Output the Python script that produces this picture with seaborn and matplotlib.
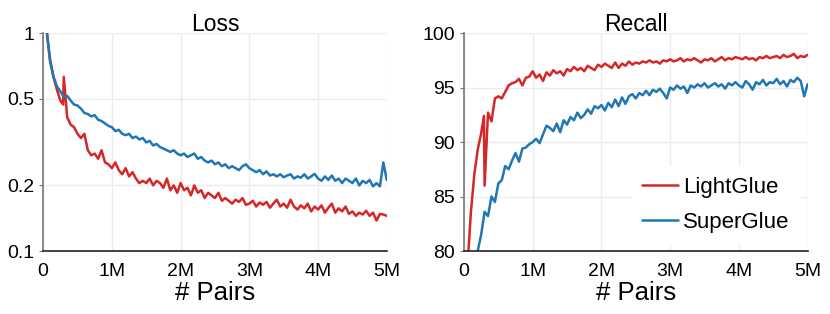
import numpy as np
import pandas as pd
import matplotlib
matplotlib.use("Agg")
import matplotlib.pyplot as plt
import seaborn as sns

# training pairs, in millions
pairs_m = [round(0.05 * i, 2) for i in range(1, 101)]
# LightGlue was resumed around 0.3M pairs -> one extra logged point
lg_pairs_m = pairs_m[:5] + [0.29] + pairs_m[5:]

lg_loss = [1.02, 0.76, 0.63, 0.55, 0.49, 0.47, 0.63, 0.41, 0.38,
           0.37, 0.345, 0.33, 0.345, 0.29, 0.275, 0.28, 0.265, 0.29, 0.255,
           0.25, 0.24, 0.255, 0.235, 0.225, 0.24, 0.22, 0.23, 0.215, 0.205,
           0.21, 0.205, 0.215, 0.2, 0.21, 0.205, 0.195, 0.215, 0.19, 0.2,
           0.185, 0.205, 0.19, 0.195, 0.18, 0.2, 0.185, 0.19, 0.175, 0.185,
           0.18, 0.175, 0.185, 0.17, 0.175, 0.17, 0.165, 0.172, 0.168, 0.175,
           0.163, 0.165, 0.17, 0.16, 0.167, 0.163, 0.168, 0.158, 0.165, 0.172,
           0.16, 0.165, 0.158, 0.172, 0.16, 0.155, 0.162, 0.157, 0.165, 0.152,
           0.16, 0.155, 0.162, 0.15, 0.158, 0.165, 0.15, 0.157, 0.152, 0.16,
           0.148, 0.152, 0.145, 0.15, 0.147, 0.153, 0.145, 0.15, 0.138, 0.148,
           0.147, 0.145]

sg_loss = [1.05, 0.74, 0.63, 0.57, 0.54, 0.51, 0.515, 0.49, 0.47, 0.465,
           0.45, 0.43, 0.425, 0.415, 0.42, 0.40, 0.395, 0.385, 0.375, 0.37,
           0.355, 0.36, 0.345, 0.34, 0.345, 0.33, 0.335, 0.325, 0.33, 0.315,
           0.32, 0.305, 0.31, 0.3, 0.295, 0.29, 0.285, 0.29, 0.28, 0.275,
           0.28, 0.27, 0.275, 0.28, 0.265, 0.27, 0.26, 0.255, 0.26, 0.25,
           0.255, 0.245, 0.25, 0.24, 0.245, 0.24, 0.235, 0.245, 0.25, 0.24,
           0.235, 0.23, 0.235, 0.225, 0.232, 0.222, 0.225, 0.22, 0.225, 0.218,
           0.222, 0.225, 0.215, 0.22, 0.217, 0.225, 0.215, 0.22, 0.226, 0.215,
           0.21, 0.22, 0.212, 0.222, 0.21, 0.215, 0.205, 0.215, 0.21, 0.205,
           0.215, 0.2, 0.21, 0.205, 0.212, 0.198, 0.205, 0.198, 0.255, 0.212]

lg_recall = [78.5, 83.5, 87.0, 89.3, 90.8, 92.4, 86.0, 92.7, 91.9, 94.0,
             94.2, 94.0, 94.6, 95.2, 95.4, 95.5, 95.8, 95.2, 95.9, 96.0,
             96.5, 95.9, 96.2, 95.6, 96.4, 96.1, 96.6, 96.3, 96.5, 96.1,
             96.7, 96.5, 96.9, 96.6, 96.8, 96.5, 97.0, 96.8, 96.6, 97.1,
             96.9, 97.2, 97.0, 96.8, 97.3, 96.8, 97.2, 97.0, 97.4, 97.1,
             97.3, 97.2, 97.4, 97.3, 97.5, 97.3, 97.4, 97.2, 97.5, 97.4,
             97.6, 97.4, 97.5, 97.7, 97.4, 97.6, 97.5, 97.7, 97.5, 97.3,
             97.6, 97.5, 97.7, 97.4, 97.6, 97.8, 97.5, 97.7, 97.6, 97.8,
             97.7, 97.6, 97.8, 97.6, 97.7, 97.5, 97.8, 97.7, 97.9, 97.7,
             97.8, 97.9, 97.7, 98.0, 97.8, 97.9, 98.1, 97.7, 97.9, 97.8,
             98.0]

sg_recall = [72.0, 75.0, 78.0, 80.0, 81.5, 83.6, 83.2, 85.0, 84.5, 86.2,
             86.5, 87.8, 87.5, 88.3, 89.0, 88.2, 89.4, 89.5, 89.8, 90.0,
             90.3, 89.9, 90.7, 91.5, 91.3, 91.0, 91.7, 90.9, 92.0, 91.6,
             92.3, 92.0, 92.7, 92.2, 92.5, 93.0, 92.6, 93.3, 93.1, 93.4,
             92.9, 93.6, 93.2, 93.9, 93.3, 94.1, 93.5, 94.2, 94.4, 94.0,
             94.5, 94.3, 94.7, 94.3, 94.8, 94.6, 94.9, 94.5, 94.0, 95.0,
             94.8, 95.2, 94.9, 95.1, 94.5, 95.2, 95.0, 95.3, 95.1, 95.4,
             95.0, 95.2, 95.4, 95.1, 95.3, 94.9, 95.4, 95.2, 95.5, 95.2,
             95.0, 95.6, 95.3, 94.8, 95.5, 95.3, 95.7, 95.2, 95.5, 95.4,
             95.8, 95.3, 95.6, 95.1, 95.7, 95.5, 95.9, 95.6, 94.2, 95.3]

methods = ["LightGlue", "SuperGlue"]
colors = {"LightGlue": "#d62728", "SuperGlue": "#1f77b4"}

df = pd.concat([
    pd.DataFrame({"pairs": np.array(lg_pairs_m) * 1e6, "loss": lg_loss,
                  "recall": lg_recall, "method": "LightGlue"}),
    pd.DataFrame({"pairs": np.array(pairs_m) * 1e6, "loss": sg_loss,
                  "recall": sg_recall, "method": "SuperGlue"}),
], ignore_index=True)

sns.set_style("whitegrid")
plt.rcParams["font.family"] = ["Liberation Sans", "DejaVu Sans"]
plt.rcParams["text.color"] = "black"
plt.rcParams["xtick.labelcolor"] = "black"
plt.rcParams["ytick.labelcolor"] = "black"
plt.rcParams["axes.labelcolor"] = "black"

fig = plt.figure(figsize=(8.3, 3.14), dpi=100)
ax1 = fig.add_axes([0.052, 0.2006, 0.414, 0.694])
ax2 = fig.add_axes([0.559, 0.2006, 0.414, 0.694])

xticks = [0, 1e6, 2e6, 3e6, 4e6, 5e6]
xlabels = ["0", "1M", "2M", "3M", "4M", "5M"]

for ax, col in [(ax1, "loss"), (ax2, "recall")]:
    sns.lineplot(data=df, x="pairs", y=col, hue="method", hue_order=methods,
                 palette=colors, estimator=None, sort=False, linewidth=1.8,
                 ax=ax, legend=(col == "recall"))
    ax.set_xlim(0, 5e6)
    ax.set_xticks(xticks)
    ax.set_xticklabels(xlabels)
    ax.set_xlabel("# Pairs", fontsize=18.5, labelpad=1)
    ax.set_ylabel("")
    ax.grid(True, color="#ececec", linewidth=1)
    sns.despine(ax=ax)
    ax.spines["left"].set_color("#777777")
    ax.spines["bottom"].set_color("#222222")
    ax.spines["left"].set_linewidth(1.2)
    ax.spines["bottom"].set_linewidth(1.2)
    ax.tick_params(axis="y", left=True, length=3, color="#777777", labelsize=14, pad=3.5)
    ax.tick_params(axis="x", bottom=False, labelsize=14, pad=5)

ax1.set_yscale("log")
ax1.set_ylim(0.1, 1)
ax1.set_yticks([0.1, 0.2, 0.5, 1])
ax1.set_yticklabels(["0.1", "0.2", "0.5", "1"])
ax1.minorticks_off()
ax1.set_title("Loss", fontsize=16.5, pad=1.5)

ax2.set_ylim(80, 100)
ax2.set_yticks([80, 85, 90, 95, 100])
ax2.set_title("Recall", fontsize=16.5, pad=1.5)
leg = ax2.legend(loc="lower right", fontsize=16, frameon=True, facecolor="white",
                 edgecolor="none", framealpha=1, handlelength=1.6,
                 handletextpad=0.25, labelspacing=0.65,
                 borderaxespad=0.3, borderpad=0.5)
leg.set_zorder(2.4)

fig.savefig("out.png", dpi=100)
